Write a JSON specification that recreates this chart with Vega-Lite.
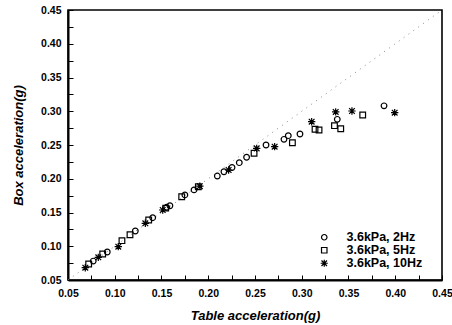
{
  "$schema": "https://vega.github.io/schema/vega-lite/v6.json",
  "width": 374,
  "height": 270,
  "autosize": "none",
  "padding": {"left": 68, "top": 10, "right": 10, "bottom": 45},
  "background": "white",
  "config": {
    "view": {"stroke": "black", "strokeWidth": 1.6},
    "font": "Liberation Sans"
  },
  "encoding": {
    "x": {
      "field": "t", "type": "quantitative",
      "scale": {"domain": [0.05, 0.45], "nice": false, "zero": false},
      "axis": {
        "title": "Table acceleration(g)",
        "values": [0.05,0.075,0.1,0.125,0.15,0.175,0.2,0.225,0.25,0.275,0.3,0.325,0.35,0.375,0.4,0.425,0.45],
        "labelExpr": "abs(datum.value*20-round(datum.value*20))<0.01 ? format(datum.value,'.2f') : ''",
        "tickSize": -5,
        "labelPadding": 13,
        "labelAlign": "center",
        "labelBaseline": "top",
        "grid": false,
        "domainColor": "black", "domainWidth": 2,
        "tickColor": "black",
        "labelFont": "Liberation Sans", "labelFontSize": 10.5, "labelFontWeight": "bold", "labelColor": "black",
        "titleFont": "Liberation Sans", "titleFontSize": 13, "titleFontWeight": "bold", "titleFontStyle": "italic", "titleColor": "black",
        "titleX": 187, "titleY": 35, "titleBaseline": "middle", "titleAlign": "center"
      }
    },
    "y": {
      "field": "b", "type": "quantitative",
      "scale": {"domain": [0.05, 0.45], "nice": false, "zero": false},
      "axis": {
        "title": "Box acceleration(g)",
        "values": [0.05,0.075,0.1,0.125,0.15,0.175,0.2,0.225,0.25,0.275,0.3,0.325,0.35,0.375,0.4,0.425,0.45],
        "labelExpr": "abs(datum.value*20-round(datum.value*20))<0.01 ? format(datum.value,'.2f') : ''",
        "tickSize": -5,
        "labelPadding": 12,
        "labelAlign": "right",
        "labelBaseline": "middle",
        "grid": false,
        "domainColor": "black", "domainWidth": 2,
        "tickColor": "black",
        "labelFont": "Liberation Sans", "labelFontSize": 10.5, "labelFontWeight": "bold", "labelColor": "black",
        "titleFont": "Liberation Sans", "titleFontSize": 13, "titleFontWeight": "bold", "titleFontStyle": "italic", "titleColor": "black",
        "titleX": -50, "titleY": 135, "titleAngle": 270, "titleBaseline": "middle", "titleAlign": "center"
      }
    }
  },
  "layer": [
    {
      "data": {"values": [{"t": 0.05, "b": 0.05}, {"t": 0.45, "b": 0.45}]},
      "mark": {"type": "line", "color": "#888888", "strokeWidth": 1, "strokeDash": [1, 5], "clip": true},
      "encoding": {}
    },
    {
      "data": {"values": [
        {"s": "3.6kPa, 2Hz", "t": 0.077, "b": 0.078},
        {"s": "3.6kPa, 2Hz", "t": 0.092, "b": 0.0915},
        {"s": "3.6kPa, 2Hz", "t": 0.122, "b": 0.1226},
        {"s": "3.6kPa, 2Hz", "t": 0.1406, "b": 0.1423},
        {"s": "3.6kPa, 2Hz", "t": 0.1555, "b": 0.1577},
        {"s": "3.6kPa, 2Hz", "t": 0.159, "b": 0.16},
        {"s": "3.6kPa, 2Hz", "t": 0.175, "b": 0.176},
        {"s": "3.6kPa, 2Hz", "t": 0.1848, "b": 0.1835},
        {"s": "3.6kPa, 2Hz", "t": 0.2097, "b": 0.204},
        {"s": "3.6kPa, 2Hz", "t": 0.2168, "b": 0.2104},
        {"s": "3.6kPa, 2Hz", "t": 0.2254, "b": 0.2167},
        {"s": "3.6kPa, 2Hz", "t": 0.2332, "b": 0.2238},
        {"s": "3.6kPa, 2Hz", "t": 0.241, "b": 0.2318},
        {"s": "3.6kPa, 2Hz", "t": 0.2618, "b": 0.25},
        {"s": "3.6kPa, 2Hz", "t": 0.281, "b": 0.2584},
        {"s": "3.6kPa, 2Hz", "t": 0.2856, "b": 0.2638},
        {"s": "3.6kPa, 2Hz", "t": 0.2981, "b": 0.2663},
        {"s": "3.6kPa, 2Hz", "t": 0.338, "b": 0.288},
        {"s": "3.6kPa, 2Hz", "t": 0.388, "b": 0.308},
        {"s": "3.6kPa, 5Hz", "t": 0.0721, "b": 0.0737},
        {"s": "3.6kPa, 5Hz", "t": 0.0871, "b": 0.0885},
        {"s": "3.6kPa, 5Hz", "t": 0.1077, "b": 0.1083},
        {"s": "3.6kPa, 5Hz", "t": 0.1163, "b": 0.117},
        {"s": "3.6kPa, 5Hz", "t": 0.1363, "b": 0.1389},
        {"s": "3.6kPa, 5Hz", "t": 0.1545, "b": 0.1565},
        {"s": "3.6kPa, 5Hz", "t": 0.1716, "b": 0.1734},
        {"s": "3.6kPa, 5Hz", "t": 0.1894, "b": 0.1882},
        {"s": "3.6kPa, 5Hz", "t": 0.249, "b": 0.2377},
        {"s": "3.6kPa, 5Hz", "t": 0.29, "b": 0.2534},
        {"s": "3.6kPa, 5Hz", "t": 0.3142, "b": 0.2733},
        {"s": "3.6kPa, 5Hz", "t": 0.3185, "b": 0.2722},
        {"s": "3.6kPa, 5Hz", "t": 0.335, "b": 0.2786},
        {"s": "3.6kPa, 5Hz", "t": 0.3417, "b": 0.2741},
        {"s": "3.6kPa, 5Hz", "t": 0.3652, "b": 0.2944},
        {"s": "3.6kPa, 10Hz", "t": 0.0685, "b": 0.0682},
        {"s": "3.6kPa, 10Hz", "t": 0.0824, "b": 0.0836},
        {"s": "3.6kPa, 10Hz", "t": 0.1038, "b": 0.0994},
        {"s": "3.6kPa, 10Hz", "t": 0.1327, "b": 0.134},
        {"s": "3.6kPa, 10Hz", "t": 0.1513, "b": 0.1537},
        {"s": "3.6kPa, 10Hz", "t": 0.191, "b": 0.189},
        {"s": "3.6kPa, 10Hz", "t": 0.2218, "b": 0.213},
        {"s": "3.6kPa, 10Hz", "t": 0.2518, "b": 0.245},
        {"s": "3.6kPa, 10Hz", "t": 0.271, "b": 0.2475},
        {"s": "3.6kPa, 10Hz", "t": 0.3106, "b": 0.2845},
        {"s": "3.6kPa, 10Hz", "t": 0.3363, "b": 0.299},
        {"s": "3.6kPa, 10Hz", "t": 0.3537, "b": 0.3004},
        {"s": "3.6kPa, 10Hz", "t": 0.3994, "b": 0.2979}
      ]},
      "mark": {"type": "point", "filled": false, "color": "black", "strokeWidth": 1.2, "size": 32, "opacity": 1},
      "encoding": {
        "shape": {
          "field": "s", "type": "nominal",
          "scale": {
            "domain": ["3.6kPa, 2Hz", "3.6kPa, 5Hz", "3.6kPa, 10Hz"],
            "range": ["circle", "square", "M-1.3,0L1.3,0M0,-1.3L0,1.3M-1,-1L1,1M-1,1L1,-1"]
          },
          "legend": {
            "title": null,
            "orient": "none",
            "legendX": 250,
            "legendY": 221,
            "symbolSize": 30,
            "symbolStrokeColor": "black",
            "symbolStrokeWidth": 1.2,
            "labelFont": "Liberation Sans",
            "labelFontSize": 12.5,
            "labelFontWeight": "bold",
            "labelColor": "black",
            "labelOffset": 16,
            "rowPadding": -1,
            "labelLimit": 200
          }
        }
      }
    }
  ]
}
